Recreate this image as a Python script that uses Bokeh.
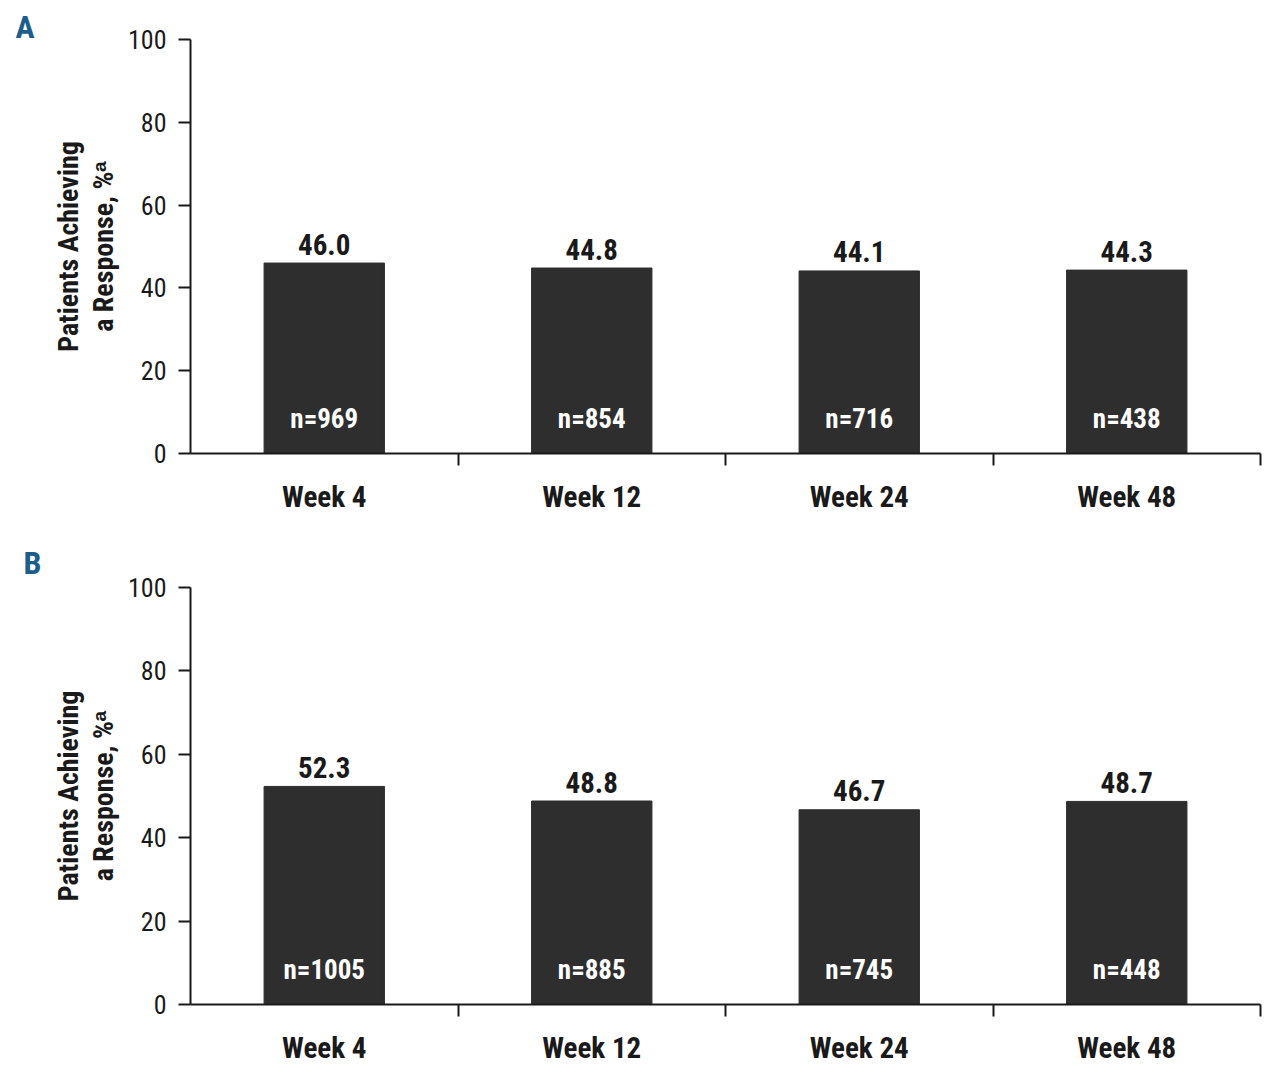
from bokeh.plotting import figure
from bokeh.models import Range1d, FixedTicker, ColumnDataSource
from bokeh.layouts import column
from bokeh.embed import file_html
from bokeh.resources import INLINE
from bokeh.core.properties import value
import numpy as np

# ---- data ----
categories = ["Week 4", "Week 12", "Week 24", "Week 48"]
a_values = [46.0, 44.8, 44.1, 44.3]
a_counts = [969, 854, 716, 438]
b_values = [52.3, 48.8, 46.7, 48.7]
b_counts = [1005, 885, 745, 448]
y_ticks = [0, 20, 40, 60, 80, 100]
y_title = "Patients Achieving\na Response, %\u1d43"

FONT = "'Roboto Condensed', 'Liberation Sans Narrow', Roboto, sans-serif"
BAR = "#2e2e2e"
INK = "#1a1a1a"
BLUE = "#1b5e8c"


def panel(letter, vals, counts, height, left, right, top, bottom,
          letter_off, letter_standoff, letter_lh):
    p = figure(width=1280, height=height, output_backend="svg", toolbar_location=None,
               min_border_left=left, min_border_right=right,
               min_border_top=top, min_border_bottom=bottom,
               x_range=Range1d(0, len(categories)), y_range=Range1d(0, 100))
    p.outline_line_color = None
    p.xgrid.visible = False
    p.ygrid.visible = False

    p.title.text = letter
    p.title.text_font = FONT
    p.title.text_font_style = "bold"
    p.title.text_font_size = "32px"
    p.title.text_color = BLUE
    p.title.align = "left"
    p.title.vertical_align = "bottom"
    p.title.offset = letter_off
    p.title.standoff = letter_standoff
    p.title.text_line_height = letter_lh

    xs = np.arange(len(categories)) + 0.5
    src = ColumnDataSource(dict(
        x=xs, top=vals,
        vlab=[f"{v:.1f}" for v in vals],
        nlab=[f"n={c}" for c in counts],
        zero=[0] * len(vals)))

    p.vbar(x="x", top="top", bottom=0, width=0.45, source=src,
           fill_color=BAR, line_color=BAR)

    p.text(x="x", y="top", text="vlab", source=src, y_offset=-19,
           text_align="center", text_baseline="alphabetic",
           text_font=value(FONT), text_font_style="bold",
           text_font_size="29px", text_color=INK)
    p.text(x="x", y="zero", text="nlab", source=src, y_offset=-35,
           text_align="center", text_baseline="alphabetic",
           text_font=value(FONT), text_font_style="bold",
           text_font_size="27px", text_color="white")

    # x axis: labels at centres, ticks at category boundaries
    xa = p.xaxis[0]
    xa.ticker = FixedTicker(ticks=list(xs),
                            minor_ticks=list(range(1, len(categories) + 1)))
    xa.major_label_overrides = {float(x): c for x, c in zip(xs, categories)}
    xa.major_tick_out = 0
    xa.major_tick_in = 0
    xa.minor_tick_out = 12
    xa.minor_tick_in = 0
    xa.minor_tick_line_color = INK
    xa.minor_tick_line_width = 2
    xa.axis_line_width = 2
    xa.axis_line_color = INK
    xa.major_label_standoff = 14
    xa.major_label_text_font = FONT
    xa.major_label_text_font_style = "bold"
    xa.major_label_text_font_size = "29px"
    xa.major_label_text_color = INK

    ya = p.yaxis[0]
    ya.ticker = FixedTicker(ticks=y_ticks)
    ya.minor_tick_line_color = None
    ya.major_tick_out = 12
    ya.major_tick_in = 0
    ya.major_tick_line_width = 2
    ya.major_tick_line_color = INK
    ya.axis_line_width = 2
    ya.axis_line_color = INK
    ya.major_label_standoff = 12
    ya.major_label_text_font = FONT
    ya.major_label_text_font_size = "26px"
    ya.major_label_text_color = INK
    ya.axis_label = y_title
    ya.axis_label_text_font = FONT
    ya.axis_label_text_font_style = "bold"
    ya.axis_label_text_font_size = "28px"
    ya.axis_label_text_line_height = 1.05
    ya.axis_label_text_color = INK
    ya.axis_label_standoff = 5
    return p


pa = panel("A", a_values, a_counts, 536, 190, 20, 39, 83, -175, -12, 1.5)
pb = panel("B", b_values, b_counts, 534, 186, 15, 51, 66, -167, 11, 1.0)

layout = column(pa, pb, spacing=0)
open("out.html", "w").write(file_html(layout, INLINE))
